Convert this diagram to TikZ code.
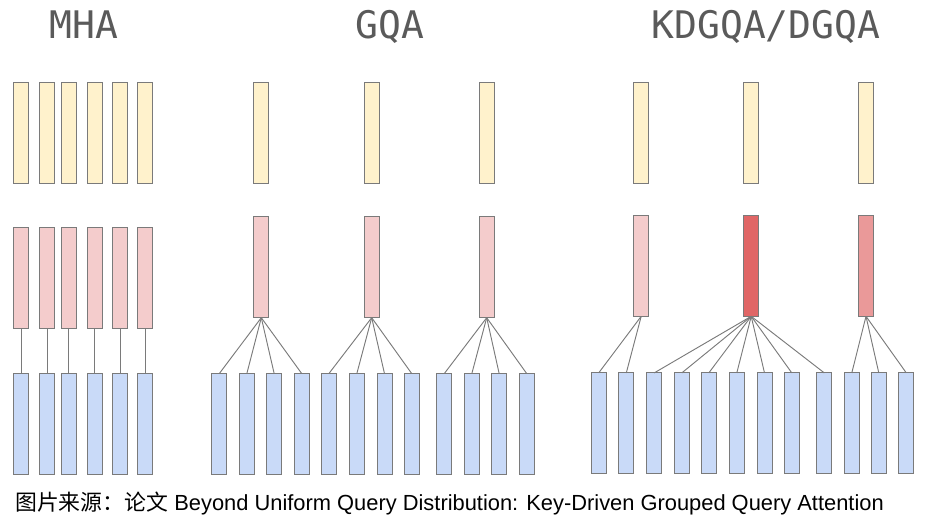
\documentclass[tikz,border=0pt]{standalone}
\usepackage{fontspec}
\setmainfont{Liberation Sans}
\newfontfamily\titlefont{DejaVu Sans Mono}
\newfontfamily\cjk{Noto Sans CJK SC}
\definecolor{ylw}{HTML}{FFF2CC}
\definecolor{pnk}{HTML}{F4CCCC}
\definecolor{pnkmid}{HTML}{EA9999}
\definecolor{pnkdark}{HTML}{E06666}
\definecolor{blu}{HTML}{C9DAF8}
\definecolor{edge}{HTML}{7A7A7A}
\definecolor{ttl}{HTML}{5A5A5A}
\tikzset{
  bar/.style={draw=edge, line width=0.75pt, inner sep=0pt, outer sep=0pt, minimum width=11.25pt, minimum height=75.75pt},
  ybar/.style={bar, fill=ylw},
  pbar/.style={bar, fill=pnk},
  bbar/.style={bar, fill=blu},
  conn/.style={draw=edge, line width=0.7pt},
  ttlstyle/.style={anchor=base, text=ttl, font=\titlefont\fontsize{28.5}{30}\selectfont, inner sep=0pt}
}
\begin{document}
\begin{tikzpicture}[x=0.75pt,y=-0.75pt]
\useasboundingbox (0,0) rectangle (928,517);
% titles
\node[ttlstyle] (tmha) at (84,38.3) {MHA};
\node[ttlstyle] (tgqa) at (390,38.3) {GQA};
\node[ttlstyle] (tkd) at (766,38.3) {KDGQA/DGQA};
% MHA
\foreach \i/\x in {1/21.3,2/47.2,3/68.8,4/94.7,5/120,6/145.3}{
  \node[ybar] (my\i) at (\x,133.3) {};
  \node[pbar] (mp\i) at (\x,278) {};
  \node[bbar] (mb\i) at (\x,424.2) {};
  \draw[conn] (mp\i.south) -- (mb\i.north);
}
% GQA
\foreach \i/\x in {1/261.3,2/371.7,3/486.7}{
  \node[ybar] (gy\i) at (\x,133.3) {};
  \node[pbar] (gp\i) at (\x,267.2) {};
}
\foreach \i/\x in {1/219.2,2/246.8,3/274.2,4/301.8,5/328.8,6/356.8,7/384.5,8/411.8,9/444.2,10/471.8,11/499.2,12/526.8}{
  \node[bbar] (gb\i) at (\x,424.2) {};
}
\foreach \i in {1,2,3,4}{\draw[conn] (gp1.south) -- (gb\i.north);}
\foreach \i in {5,6,7,8}{\draw[conn] (gp2.south) -- (gb\i.north);}
\foreach \i in {9,10,11,12}{\draw[conn] (gp3.south) -- (gb\i.north);}
% KDGQA
\foreach \i/\x in {1/641.2,2/751.2,3/866}{
  \node[ybar] (ky\i) at (\x,132.8) {};
}
\node[pbar] (kp1) at (641.2,265.8) {};
\node[pbar, fill=pnkdark] (kp2) at (751.2,265.8) {};
\node[pbar, fill=pnkmid] (kp3) at (866,265.8) {};
\foreach \i/\x in {1/598.7,2/626.3,3/654.2,4/681.8,5/708.8,6/736.8,7/764.5,8/791.8,9/824.3,10/851.8,11/878.8,12/906.3}{
  \node[bbar] (kb\i) at (\x,423.4) {};
}
\foreach \i in {1,2}{\draw[conn] (kp1.south) -- (kb\i.north);}
\foreach \i in {3,...,9}{\draw[conn] (kp2.south) -- (kb\i.north);}
\foreach \i in {10,11,12}{\draw[conn] (kp3.south) -- (kb\i.north);}
% caption
\node[anchor=base west, inner sep=0pt, font=\fontsize{16.4}{19}\selectfont] (cap) at (15,510.5) {{\cjk 图片来源：论文} Beyond Uniform Query Distribution: Key-Driven Grouped Query Attention};
\end{tikzpicture}
\end{document}
